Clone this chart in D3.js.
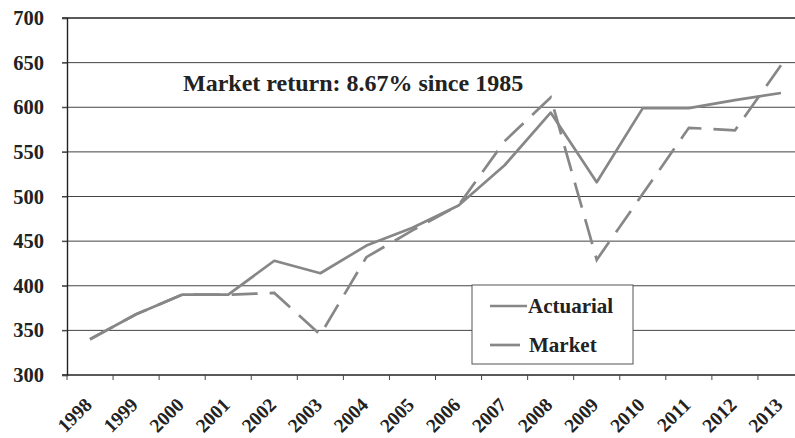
<!DOCTYPE html>
<html><head><meta charset="utf-8">
<script src="https://cdn.jsdelivr.net/npm/d3@7"></script>
<style>body{margin:0;background:#fff}svg{display:block}</style>
</head><body>
<script>
const years = ["1998","1999","2000","2001","2002","2003","2004","2005","2006","2007","2008","2009","2010","2011","2012","2013"];
const actuarial = [340,368,390,390,428,414,445,465,490,535,594,516,599,599,608,616];
const market = [340,368,390,390,392,345,432,462,490,562,611,429,503,577,574,647];
const yTicks = [300,350,400,450,500,550,600,650,700];
const annotation = "Market return: 8.67% since 1985";
const seriesNames = ["Actuarial","Market"];

const W = 795, H = 438;
const svg = d3.select("body").append("svg").attr("width", W).attr("height", H);
const font = "'Liberation Serif','Times New Roman',serif";

const x = d3.scaleBand().domain(years).range([67, 804]);
const y = d3.scaleLinear().domain([300, 700]).range([375, 18]);

// grid
svg.append("g").selectAll("line").data(yTicks).join("line")
  .attr("x1", 62).attr("x2", W)
  .attr("y1", d => y(d)).attr("y2", d => y(d))
  .attr("stroke", d => d === 700 || d === 300 ? "#222" : "#444")
  .attr("stroke-width", d => d === 700 || d === 300 ? 1.6 : 1);

// y axis
const yAxis = d3.axisLeft(y).tickValues(yTicks).tickSize(5).tickPadding(18);
const gy = svg.append("g").attr("transform", "translate(67,0)").call(yAxis);
gy.select(".domain").attr("stroke", "#222").attr("stroke-width", 1.4);
gy.selectAll(".tick line").attr("stroke", "#444");
gy.selectAll("text").attr("font-family", font).attr("font-weight", "bold")
  .attr("font-size", 20.5).attr("fill", "#222");

// x axis ticks (boundaries)
const bounds = years.map(d => x(d));
svg.append("g").selectAll("line").data(bounds).join("line")
  .attr("x1", d => d).attr("x2", d => d).attr("y1", 375).attr("y2", 380)
  .attr("stroke", "#444");
const xAxis = d3.axisBottom(x).tickSize(0).tickPadding(0);
const gx = svg.append("g").attr("transform", "translate(0,375)").call(xAxis);
gx.select(".domain").remove();
gx.selectAll("text")
  .attr("font-family", font).attr("font-weight", "bold").attr("font-size", 19.5).attr("fill", "#222")
  .attr("text-anchor", "end").attr("dy", 0).attr("y", 0)
  .attr("transform", "translate(3,31) rotate(-45)");

// lines
const cx = d => x(d) + x.bandwidth() / 2;
const line = d3.line().x((d, i) => cx(years[i])).y(d => y(d));
svg.append("path").datum(actuarial).attr("d", line)
  .attr("fill", "none").attr("stroke", "#878787").attr("stroke-width", 2.7).attr("stroke-linejoin", "round");
svg.append("path").datum(market).attr("d", line)
  .attr("fill", "none").attr("stroke", "#878787").attr("stroke-width", 2.7)
  .attr("stroke-dasharray", "26,12");

// annotation
svg.append("text").attr("x", 183).attr("y", 91).text(annotation)
  .attr("font-family", font).attr("font-weight", "bold").attr("font-size", 24).attr("fill", "#222");

// legend
const lg = svg.append("g");
lg.append("rect").attr("x", 472).attr("y", 285).attr("width", 161).attr("height", 79)
  .attr("fill", "#fff").attr("stroke", "#555").attr("stroke-width", 1);
const ly = [306, 345];
lg.selectAll("line.s").data(seriesNames).join("line")
  .attr("x1", 490).attr("x2", (d, i) => i === 0 ? 527 : 520)
  .attr("y1", (d, i) => ly[i]).attr("y2", (d, i) => ly[i])
  .attr("stroke", "#878787").attr("stroke-width", 2.7);
lg.selectAll("text").data(seriesNames).join("text")
  .attr("x", (d, i) => i === 0 ? 528 : 529).attr("y", (d, i) => ly[i] + 6.5).text(d => d)
  .attr("font-family", font).attr("font-weight", "bold").attr("font-size", 21).attr("fill", "#222");
</script>
</body></html>
